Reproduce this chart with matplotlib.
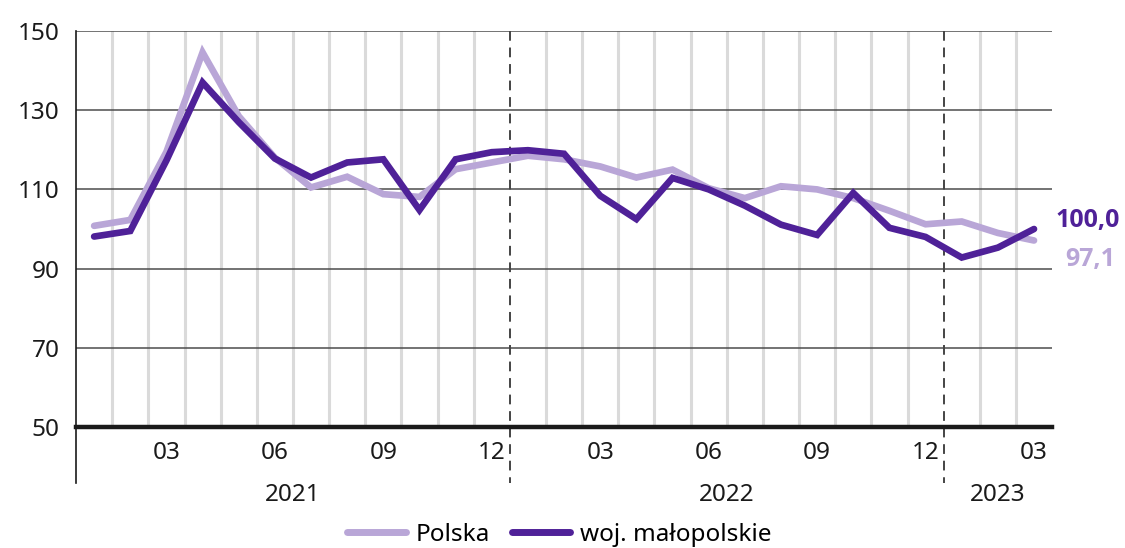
import matplotlib
matplotlib.use("Agg")
import matplotlib.pyplot as plt
from matplotlib.lines import Line2D

plt.rcParams['font.family'] = ['Noto Sans', 'DejaVu Sans']

# miesiace 2021-01 .. 2023-03
months = ["01", "02", "03", "04", "05", "06", "07", "08", "09", "10", "11", "12",
          "01", "02", "03", "04", "05", "06", "07", "08", "09", "10", "11", "12",
          "01", "02", "03"]
years = ["2021", "2022", "2023"]

polska = [100.8, 102.3, 119.5, 144.6, 128.5, 118.0, 110.5, 113.2, 108.8, 108.1,
          115.1, 116.8, 118.5, 117.6, 115.8, 113.0, 115.0, 110.3, 107.8, 110.8,
          110.0, 107.8, 104.6, 101.2, 101.9, 99.0, 97.1]
malopolskie = [98.1, 99.5, 117.3, 137.0, 127.0, 117.8, 113.0, 116.8, 117.6, 104.8,
               117.6, 119.4, 119.9, 119.0, 108.4, 102.5, 112.9, 110.0, 105.9, 101.1,
               98.5, 109.1, 100.3, 98.0, 92.8, 95.3, 100.0]

c_light = "#b9a6d7"
c_dark = "#4f2198"

fig = plt.figure(figsize=(11.25, 5.48), dpi=100)
ax = fig.add_axes([0.0676, 0.2208, 0.8676, 0.7226])

n = len(months)
x = list(range(n))
ax.set_xlim(-0.5, n - 0.5)
ax.set_ylim(50, 150)

# pionowe linie miedzy miesiacami
for i in range(n - 1):
    if months[i] == "12":
        ax.plot([i + 0.5, i + 0.5], [1, -0.142], transform=ax.get_xaxis_transform(),
                color="#444444", lw=1.4, ls=(0, (5, 3.5)), clip_on=False, zorder=2)
    else:
        ax.axvline(i + 0.5, color="#dadada", lw=2.2, zorder=1)

# poziome linie
for v in [70, 90, 110, 130, 150]:
    ax.axhline(v, color="#4d4d4d", lw=1.1, zorder=1)
ax.axhline(50, color="#1a1a1a", lw=3.2, zorder=3, clip_on=False)
ax.plot([-0.5, -0.5], [1, -0.142], transform=ax.get_xaxis_transform(),
        color="#1a1a1a", lw=1.2, clip_on=False, zorder=3)

ax.plot(x, polska, color=c_light, lw=4.8, solid_capstyle="round",
        solid_joinstyle="miter", zorder=4)
ax.plot(x, malopolskie, color=c_dark, lw=4.8, solid_capstyle="round",
        solid_joinstyle="miter", zorder=5)

for s in ax.spines.values():
    s.set_visible(False)

ax.set_yticks([50, 70, 90, 110, 130, 150])
ax.tick_params(axis="y", length=0, pad=12, labelsize=17.5, labelcolor="#1a1a1a")
tick_idx = [i for i in range(n) if int(months[i]) % 3 == 0]
ax.set_xticks(tick_idx)
ax.set_xticklabels([months[i] for i in tick_idx])
ax.tick_params(axis="x", length=0, pad=10, labelsize=17.5, labelcolor="#1a1a1a")

# lata
year_pos = [5.5, 17.5, 25]
for yp, yr in zip(year_pos, years):
    ax.text(yp, -0.172, yr, transform=ax.get_xaxis_transform(), ha="center",
            va="center", fontsize=17.5, color="#1a1a1a")

ax.text(n - 1 + 0.6, malopolskie[-1] + 2.2, "100,0", color=c_dark, fontsize=18,
        fontweight="bold", family=["Open Sans", "DejaVu Sans"], ha="left", va="center")
ax.text(n - 1 + 0.85, polska[-1] - 4.8, "97,1", color=c_light, fontsize=18,
        fontweight="bold", family=["Open Sans", "DejaVu Sans"], ha="left", va="center")

handles = [Line2D([], [], color=c_light, lw=5, solid_capstyle="round"),
           Line2D([], [], color=c_dark, lw=5, solid_capstyle="round")]
fig.legend(handles, ["Polska", "woj. małopolskie"], loc="center",
           bbox_to_anchor=(0.497, 0.024), ncol=2, frameon=False, fontsize=17.5,
           handlelength=2.4, handletextpad=0.4, columnspacing=0.9)

fig.savefig("out.png", dpi=100)
